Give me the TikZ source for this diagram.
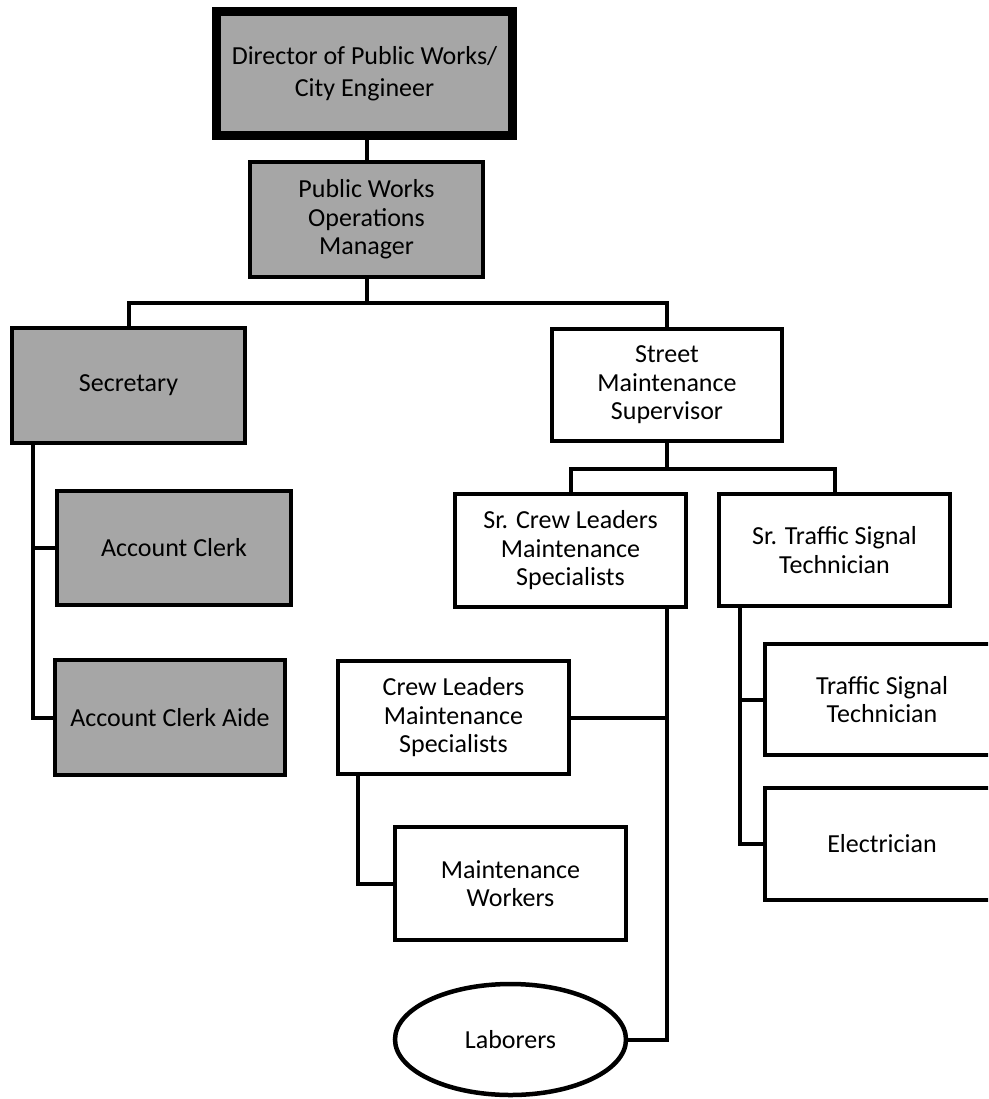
\documentclass[tikz,border=0pt]{standalone}
\usepackage{fontspec}
\setmainfont{Carlito}
\usetikzlibrary{shapes.geometric}
\definecolor{boxgray}{RGB}{166,166,166}
\tikzset{
  orgbox/.style={draw=black, line width=4.5pt, rectangle, inner sep=0pt, align=center,
    font=\fontsize{26}{28.5}\selectfont, fill=white},
  graybox/.style={orgbox, fill=boxgray},
  conn/.style={draw=black, line width=4pt},
}
\begin{document}
\begin{tikzpicture}[x=1pt, y=-1pt]
\clip (0,0) rectangle (988,1099);
\fill[white] (0,0) rectangle (988,1099);

\node[graybox, line width=9pt, minimum width=296pt, minimum height=124pt,
  font=\fontsize{26}{32}\selectfont] (dir) at (364.5,73.5) {Director of Public Works/\\City Engineer};
\node[graybox, minimum width=233pt, minimum height=115pt] (pwom) at (366.5,219.5) {Public Works\\Operations\\Manager};
\node[graybox, minimum width=233pt, minimum height=115pt] (sec) at (128.5,385.5) {Secretary};
\node[graybox, minimum width=234pt, minimum height=114pt] (ac) at (174,548) {Account Clerk};
\node[graybox, minimum width=230pt, minimum height=115pt] (aide) at (170,717.5) {Account Clerk Aide};
\node[orgbox, minimum width=230pt, minimum height=112pt] (sms) at (667,385) {Street\\Maintenance\\Supervisor};
\node[orgbox, minimum width=231pt, minimum height=113pt] (crew) at (570.5,550.5) {Sr. Crew Leaders\\Maintenance\\Specialists};
\node[orgbox, minimum width=231pt, minimum height=112pt] (trf) at (834.5,550) {Sr. Traffic Signal\\Technician};
\node[orgbox, minimum width=234pt, minimum height=111pt] (tst) at (882,699.5) {Traffic Signal\\Technician};
\node[orgbox, minimum width=234pt, minimum height=112pt] (el) at (882,844) {Electrician};
\node[orgbox, minimum width=231pt, minimum height=113pt] (cl) at (453.5,717.5) {Crew Leaders\\Maintenance\\Specialists};
\node[orgbox, minimum width=231pt, minimum height=113pt] (mw) at (510.5,883.5) {Maintenance\\Workers};
\node[orgbox, ellipse, minimum width=231pt, minimum height=111pt] (lab) at (510.5,1039.5) {Laborers};

\coordinate (j1) at (366.5,303);
\coordinate (j2) at (667,469);

\draw[conn] (pwom.north |- dir.south) -- (pwom.north);
\draw[conn] (pwom.south) -- (j1);
\draw[conn] (sec.north) |- (j1) -| (sms.north);
\draw[conn] ([xshift=23pt]sec.south west) |- (aide.west);
\draw[conn] ([xshift=23pt]sec.south west) |- (ac.west);
\draw[conn] (sms.south) -- (j2);
\draw[conn] (crew.north) |- (j2) -| (trf.north);
\draw[conn] ([xshift=-21pt]crew.south east) |- (lab.east);
\draw[conn] ([xshift=-21pt]crew.south east) |- (cl.east);
\draw[conn] ([xshift=23pt]trf.south west) |- (el.west);
\draw[conn] ([xshift=23pt]trf.south west) |- (tst.west);
\draw[conn] ([xshift=22pt]cl.south west) |- (mw.west);
\end{tikzpicture}
\end{document}
